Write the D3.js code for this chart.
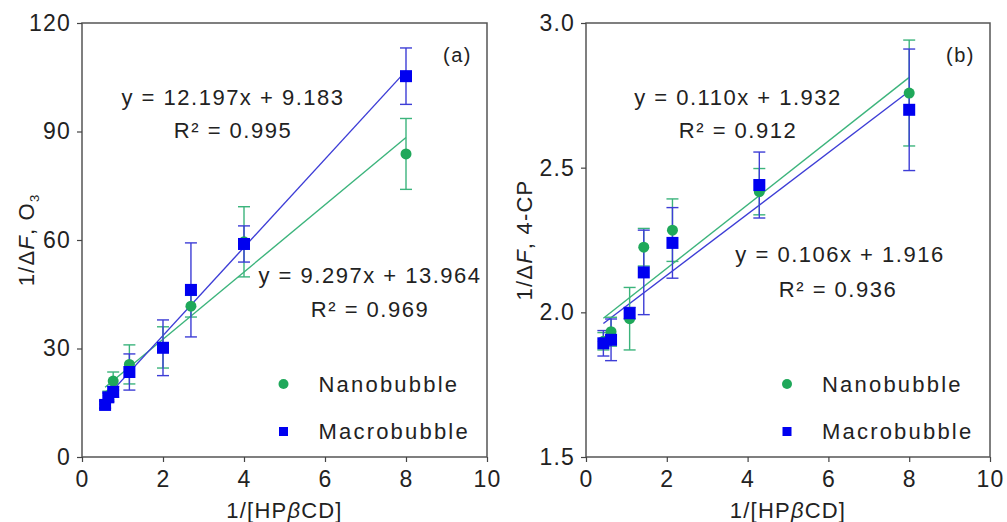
<!DOCTYPE html>
<html>
<head>
<meta charset="utf-8">
<script src="https://cdn.jsdelivr.net/npm/d3@7"></script>
<style>
  body { margin: 0; background: #fff; }
  svg text { font-family: Arial, "Liberation Sans", sans-serif; fill: #222; }
</style>
</head>
<body>
<svg id="chart" width="1007" height="522"></svg>
<script>
// panel (a): 1/dF of O3
const xA = [0.57, 0.65, 0.77, 1.17, 2.0, 2.69, 4.0, 8.0]
const nanoA = [14.6, 17.0, 21.0, 25.6, 30.3, 41.7, 59.5, 83.8]
const nanoErrA = [1.0, 1.2, 2.5, 5.4, 5.7, 3.0, 9.7, 9.8]
const macroA = [14.4, 16.5, 18.0, 23.5, 30.2, 46.2, 58.9, 105.3]
const macroErrA = [1.0, 1.2, 1.5, 5.0, 7.7, 13.0, 5.0, 7.8]
const fitNanoA = [9.297, 13.964]
const fitMacroA = [12.197, 9.183]
const eqA = ['y = 12.197x + 9.183', 'R² = 0.995', 'y = 9.297x + 13.964', 'R² = 0.969']
const yTicksA = [0, 30, 60, 90, 120]

// panel (b): 1/dF of 4-CP
const xB = [0.43, 0.62, 1.08, 1.43, 2.14, 4.29, 8.0]
const nanoB = [1.90, 1.933, 1.978, 2.225, 2.284, 2.417, 2.758]
const nanoErrB = [0.03, 0.05, 0.108, 0.065, 0.108, 0.08, 0.183]
const macroB = [1.893, 1.905, 1.997, 2.138, 2.240, 2.440, 2.700]
const macroErrB = [0.044, 0.072, 0.02, 0.146, 0.122, 0.114, 0.21]
const fitNanoB = [0.110, 1.932]
const fitMacroB = [0.106, 1.916]
const eqB = ['y = 0.110x + 1.932', 'R² = 0.912', 'y = 0.106x + 1.916', 'R² = 0.936']
const yTicksB = [1.5, 2.0, 2.5, 3.0]

const xTicks = [0, 2, 4, 6, 8, 10]
const seriesNames = ['Nanobubble', 'Macrobubble']

const GREEN = '#1fa85a'
const GREEN_LINE = '#3cb47c'
const BLUE = '#0000f0'
const BLUE_LINE = '#3d3dd6'
const FONT = 22
const TICK_FONT = 23

const svg = d3.select('#chart')

function drawPanel(opt) {
    const g = svg.append('g')
    const x = d3.scaleLinear().domain([0, 10]).range([opt.left, opt.right])
    const y = d3.scaleLinear().domain(opt.yDomain).range([457, 23])

    g.append('rect')
        .attr('x', opt.left).attr('y', 23)
        .attr('width', opt.right - opt.left).attr('height', 434)
        .attr('fill', 'none').attr('stroke', '#555').attr('stroke-width', 1.5)

    const xAxis = g.append('g')
        .attr('transform', 'translate(0,457)')
        .call(d3.axisBottom(x).tickValues(xTicks).tickSize(5).tickPadding(9).tickFormat(d3.format('d')))
    const yAxis = g.append('g')
        .attr('transform', `translate(${opt.left},0)`)
        .call(d3.axisLeft(y).tickValues(opt.yTicks).tickSize(5).tickPadding(6).tickFormat(opt.yFormat))
    ;[xAxis, yAxis].forEach(a => {
        a.select('.domain').remove()
        a.selectAll('line').attr('stroke', '#444').attr('stroke-width', 1.2)
        a.selectAll('text').attr('font-size', TICK_FONT).attr('fill', '#222')
            .attr('font-family', 'Arial, "Liberation Sans", sans-serif')
            .style('letter-spacing', '1.2px')
    })

    // fit lines
    const fits = [[opt.fitNano, GREEN_LINE], [opt.fitMacro, BLUE_LINE]]
    fits.forEach(([f, color]) => {
        const x0 = opt.xs[0], x1 = opt.xs[opt.xs.length - 1]
        g.append('line')
            .attr('x1', x(x0)).attr('y1', y(f[0] * x0 + f[1]))
            .attr('x2', x(x1)).attr('y2', y(f[0] * x1 + f[1]))
            .attr('stroke', color).attr('stroke-width', 1.4)
    })

    // error bars
    const errs = [[opt.nano, opt.nanoErr, GREEN_LINE], [opt.macro, opt.macroErr, BLUE_LINE]]
    errs.forEach(([vals, err, color]) => {
        opt.xs.forEach((xv, i) => {
            const cx = x(xv)
            const top = y(vals[i] + err[i])
            const bot = y(vals[i] - err[i])
            const eg = g.append('g').attr('stroke', color).attr('stroke-width', 1.4)
            eg.append('line').attr('x1', cx).attr('x2', cx).attr('y1', top).attr('y2', bot)
            eg.append('line').attr('x1', cx - 6).attr('x2', cx + 6).attr('y1', top).attr('y2', top)
            eg.append('line').attr('x1', cx - 6).attr('x2', cx + 6).attr('y1', bot).attr('y2', bot)
        })
    })

    g.selectAll('.nano').data(opt.xs).join('circle')
        .attr('cx', d => x(d)).attr('cy', (d, i) => y(opt.nano[i]))
        .attr('r', 5.5).attr('fill', GREEN)
    g.selectAll('.macro').data(opt.xs).join('rect')
        .attr('x', d => x(d) - 6).attr('y', (d, i) => y(opt.macro[i]) - 6)
        .attr('width', 12).attr('height', 12).attr('fill', BLUE)

    // equations
    opt.eqPos.forEach((p, i) => {
        g.append('text')
            .attr('x', p[0]).attr('y', p[1])
            .attr('text-anchor', 'middle').attr('font-size', FONT)
            .style('letter-spacing', '1.5px')
            .text(opt.eq[i])
    })

    // panel letter
    g.append('text').attr('x', opt.right - 15).attr('y', 62)
        .attr('text-anchor', 'end').attr('font-size', 20)
        .style('letter-spacing', '1.5px')
        .text(opt.letter)

    // legend
    const lx = opt.left + 0.5 * (opt.right - opt.left) - 1
    g.append('circle').attr('cx', lx).attr('cy', 384).attr('r', 5).attr('fill', GREEN)
    g.append('rect').attr('x', lx - 4.5).attr('y', 427).attr('width', 9).attr('height', 9).attr('fill', BLUE)
    seriesNames.forEach((name, i) => {
        g.append('text').attr('x', lx + 35).attr('y', 392 + i * 47)
            .attr('font-size', FONT).style('letter-spacing', '2.2px')
            .text(name)
    })

    // x title
    const xt = g.append('text')
        .attr('x', (opt.left + opt.right) / 2).attr('y', 518)
        .attr('text-anchor', 'middle').attr('font-size', FONT)
        .style('letter-spacing', '1.2px')
    xt.append('tspan').text('1/[HP')
    xt.append('tspan').attr('font-style', 'italic').text('β')
    xt.append('tspan').text('CD]')

    // y title
    const yt = g.append('text')
        .attr('transform', `translate(${opt.yTitleX},240) rotate(-90)`)
        .attr('text-anchor', 'middle').attr('font-size', FONT)
        .style('letter-spacing', '1.2px')
    yt.append('tspan').text('1/Δ')
    yt.append('tspan').attr('font-style', 'italic').text('F')
    yt.append('tspan').text(opt.yTitleRest)
    if (opt.yTitleSub) {
        yt.append('tspan').attr('font-size', 13).attr('dy', 5).text(opt.yTitleSub)
    }
}

drawPanel({
    left: 82, right: 487,
    yDomain: [0, 120], yTicks: yTicksA, yFormat: d3.format('d'),
    xs: xA, nano: nanoA, nanoErr: nanoErrA, macro: macroA, macroErr: macroErrA,
    fitNano: fitNanoA, fitMacro: fitMacroA,
    eq: eqA, eqPos: [[233, 105], [233, 138], [370, 283], [370, 317]],
    letter: '(a)', yTitleX: 34, yTitleRest: ', O', yTitleSub: '3'
})

drawPanel({
    left: 586, right: 990,
    yDomain: [1.5, 3.0], yTicks: yTicksB, yFormat: d3.format('.1f'),
    xs: xB, nano: nanoB, nanoErr: nanoErrB, macro: macroB, macroErr: macroErrB,
    fitNano: fitNanoB, fitMacro: fitMacroB,
    eq: eqB, eqPos: [[738, 105], [738, 138], [840, 262], [838, 297]],
    letter: '(b)', yTitleX: 532, yTitleRest: ', 4-CP', yTitleSub: null
})
</script>
</body>
</html>
